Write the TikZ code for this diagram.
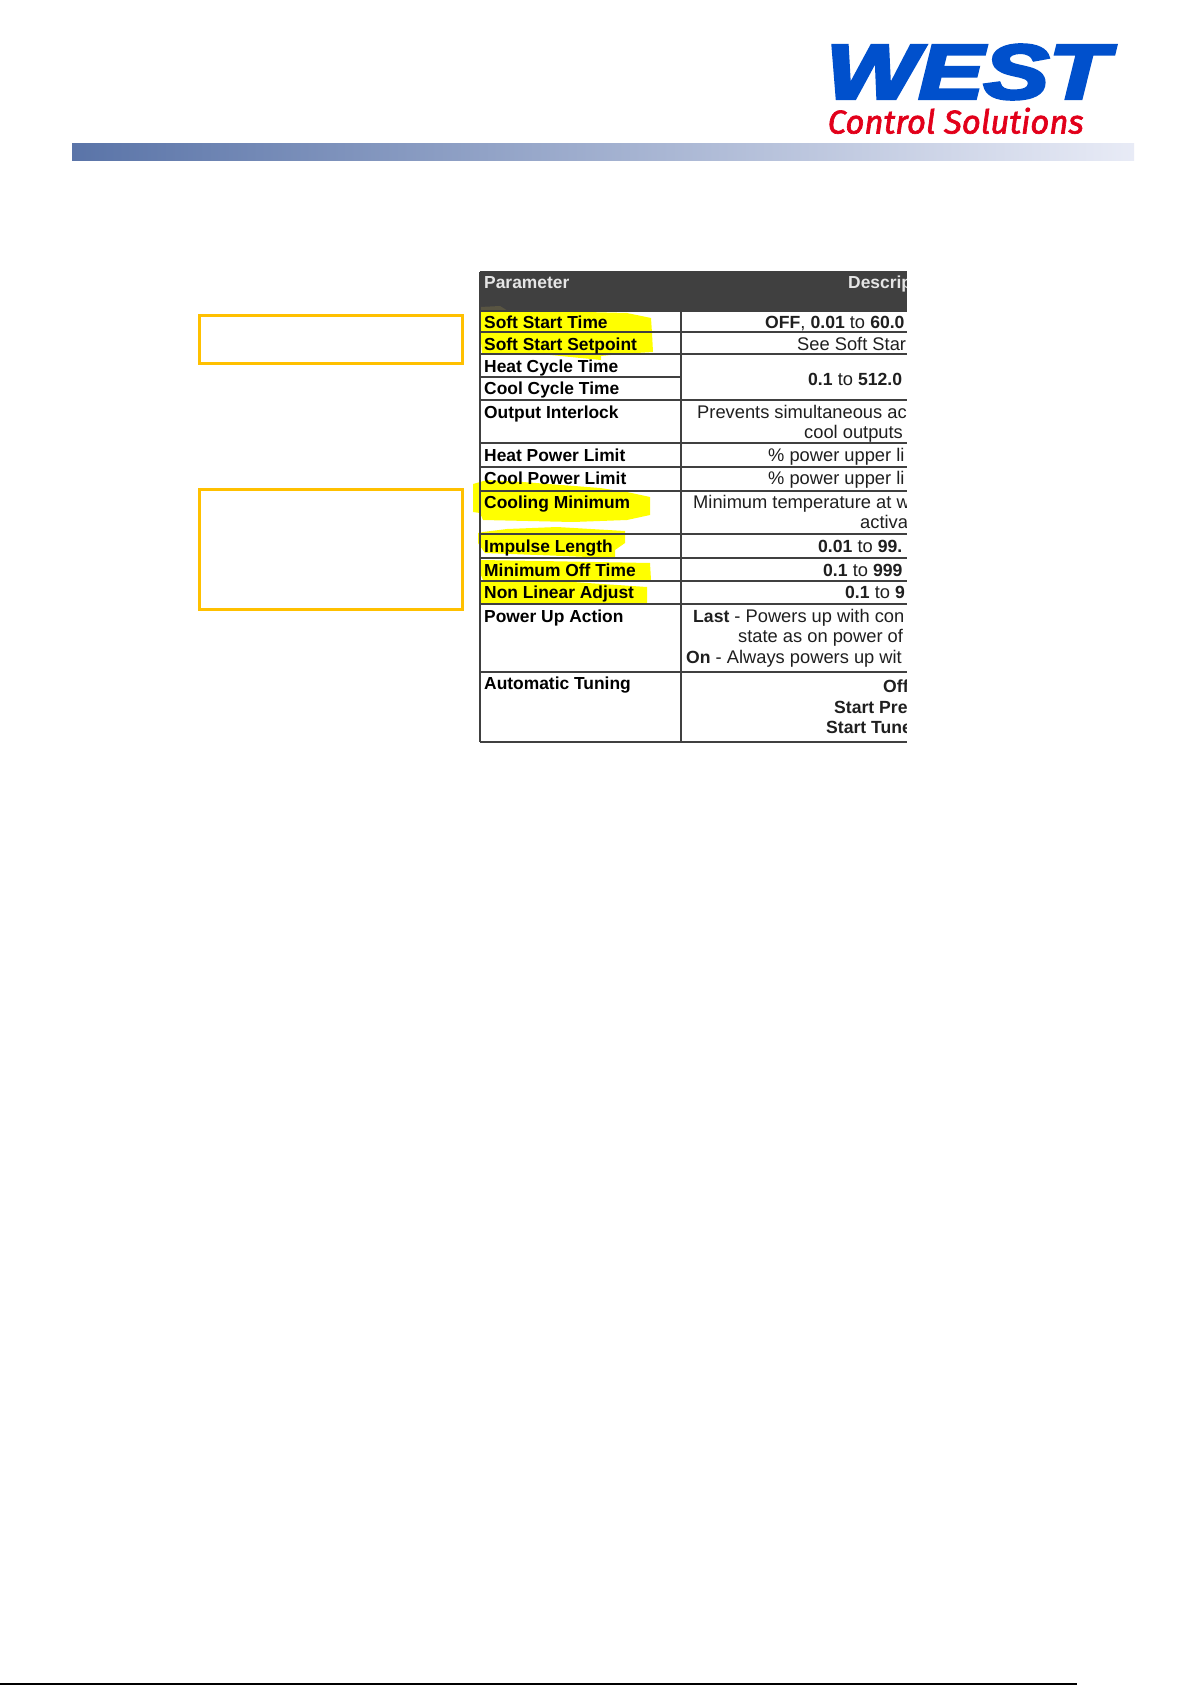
\documentclass[tikz,border=0pt]{standalone}
\usepackage{fontspec}
\setmainfont{Liberation Sans}
\newfontfamily\westfont[BoldItalicFeatures={FakeBold=4}]{Liberation Sans}
\newfontfamily\ctrlfont[ItalicFeatures={FakeBold=2}]{Fira Sans}
\definecolor{westblue}{HTML}{0050CC}
\definecolor{westred}{HTML}{E2001A}
\definecolor{framegold}{HTML}{FFC000}
\definecolor{headgrey}{HTML}{404040}
\definecolor{markyellow}{HTML}{FFFF00}
\definecolor{barleft}{HTML}{5A74A8}
\definecolor{barright}{HTML}{E8EBF6}
\newcommand{\dbold}[1]{{\fontsize{17.6}{20}\selectfont\bfseries #1}}
\begin{document}
\begin{tikzpicture}[
  x=1pt,
  y=-1pt,
  framebox/.style={draw=framegold, line width=3pt},
  gridline/.style={draw=headgrey, line width=1.2pt},
  marker/.style={fill=markyellow},
  paramtext/.style={anchor=base west, inner sep=0pt, font=\fontsize{17.4}{20}\selectfont\bfseries, text=black},
  desctext/.style={anchor=base west, inner sep=0pt, font=\fontsize{18.3}{20}\selectfont, text=black!88},
  headtext/.style={paramtext, text=white!90!black}
]
\useasboundingbox (0,0) rectangle (1192,1685);
\fill[white] (0,0) rectangle (1192,1685);
% header
\shade[left color=barleft, right color=barright, draw=none]
  (72,143.5) rectangle (1134,161);
\node[anchor=base west, inner sep=0pt, text=westblue] (westname) at (826,98.5)
  {\scalebox{1.27}[1]{\westfont\bfseries\itshape\fontsize{77}{80}\selectfont WEST}};
\node[anchor=base west, inner sep=0pt, text=westred] (ctrlname) at (827.5,133.5)
  {\ctrlfont\itshape\fontsize{33}{36}\selectfont Control Solutions};
% empty frames
\node[framebox, minimum width=263pt, minimum height=47.5pt, inner sep=0pt, anchor=north west] (frametop) at (198,314) {};
\node[framebox, minimum width=263pt, minimum height=119.5pt, inner sep=0pt, anchor=north west] (framelow) at (198,488) {};
% highlighter strokes
\fill[marker] (479,312) -- (545,311) -- (627,313) -- (651,318) -- (652,333) -- (653,352) -- (620,354)
  -- (601,356) -- (601,360) -- (540,354) -- (482,353) -- (480,330) -- cycle;
\fill[marker] (473,484) -- (487,480) -- (523,482) -- (600,488) -- (627,492) -- (650,497) -- (650,515)
  -- (627,520) -- (573,522) -- (483,520) -- (480,513) -- (473,512) -- cycle;
\fill[marker] (478,533) -- (483,532) -- (507,529) -- (557,527) -- (625,531) -- (625,543) -- (615,550)
  -- (615,558) -- (485,553) -- (478,543) -- cycle;
\fill[marker] (480,560) -- (540,561) -- (650,563) -- (651,580) -- (483,580) -- (480,573) -- cycle;
\fill[marker] (480,582) -- (573,582) -- (647,587) -- (647,603) -- (540,603) -- (480,603) -- cycle;
% table
\fill[headgrey] (480,272) rectangle (907,311);
\fill[black!75!yellow] (480,307) -- (500,306) -- (508,311) -- (480,311) -- cycle;
\foreach \rowy in {311,332,354,443,467,491,534,558,581,604,672}
  \draw[gridline] (480,\rowy) -- (907,\rowy);
\draw[gridline] (480,377) -- (681,377);
\draw[gridline] (480,400) -- (907,400);
\draw[gridline] (480,272) -- (907,272);
\draw[gridline] (480,742) -- (907,742);
\draw[gridline] (480,272) -- (480,742);
\draw[gridline] (681,272) -- (681,742);
% parameter column
\foreach \rowname/\rowy/\rowtext in {
  softtime/328/Soft Start Time,
  softset/350/Soft Start Setpoint,
  heatcycle/372/Heat Cycle Time,
  coolcycle/394/Cool Cycle Time,
  interlock/418/Output Interlock,
  heatlimit/461/Heat Power Limit,
  coollimit/484/Cool Power Limit,
  coolmin/508/Cooling Minimum,
  impulse/552/Impulse Length,
  minoff/576/Minimum Off Time,
  nonlinear/598/Non Linear Adjust,
  powerup/622/Power Up Action,
  autotune/689/Automatic Tuning}
  \node[paramtext] (\rowname) at (484,\rowy) {\rowtext};
\node[headtext] (paramhead) at (484,289) {Parameter};
% description column, cut off at the right
\begin{scope}
\clip (682,260) rectangle (906.5,750);
\node[headtext] (deschead) at (848,289) {Descrip};
\node[desctext] (dsoft) at (765,328) {\dbold{OFF}, \dbold{0.01} to \dbold{60.0}};
\node[desctext] (dset) at (797,350) {See Soft Star};
\node[desctext] (dcycle) at (808,385) {\dbold{0.1} to \dbold{512.0}};
\node[desctext] (dlock) at (697,418) {Prevents simultaneous ac};
\node[desctext] (dlockb) at (804,438) {cool outputs};
\node[desctext] (dheat) at (768,461) {\% power upper li};
\node[desctext] (dcool) at (768,484) {\% power upper li};
\node[desctext] (dmin) at (693,508) {Minimum temperature at w};
\node[desctext] (dminb) at (860,528) {activa};
\node[desctext] (dimp) at (818,552) {\dbold{0.01} to \dbold{99.}};
\node[desctext] (doff) at (823,576) {\dbold{0.1} to \dbold{999}};
\node[desctext] (dnon) at (845,598) {\dbold{0.1} to \dbold{9}};
\node[desctext] (dlast) at (693,622) {\dbold{Last} - Powers up with con};
\node[desctext] (dstate) at (738,642) {state as on power of};
\node[desctext] (don) at (686,663) {\dbold{On} - Always powers up wit};
\node[desctext] (dtune) at (883,692) {\dbold{Off}};
\node[desctext] (dpre) at (834,713) {\dbold{Start Pre}};
\node[desctext] (dstart) at (826,733) {\dbold{Start Tune}};
\end{scope}
% foot line
\draw[black, line width=1.4pt] (0,1684) -- (1077,1684);
\end{tikzpicture}
\end{document}
